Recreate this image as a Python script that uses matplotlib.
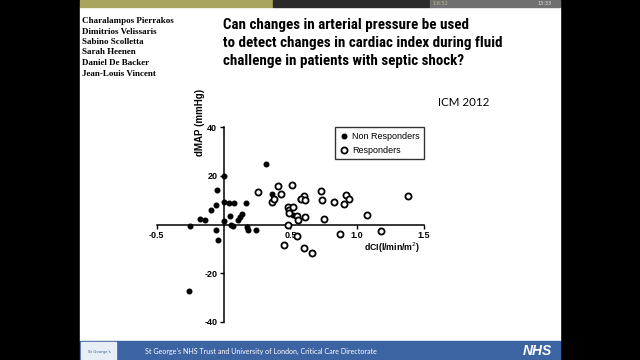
import matplotlib
matplotlib.use('Agg')
import matplotlib.pyplot as plt
from matplotlib.patches import Rectangle
from matplotlib.lines import Line2D
from matplotlib import font_manager as fm

W, H = 640, 360

# data
non_x = [0.32, 0.0, -0.05, -0.06, -0.095, 0.0, 0.04, 0.08, 0.17, 0.36,
         0.05, 0.14, 0.12, 0.105, 0.0, -0.175, -0.14, -0.25, -0.06, 0.057,
         0.07, 0.177, 0.185, 0.24, -0.04, -0.26, 0.57, 0.52]
non_y = [25, 20, 14, 8, 6, 9.4, 8.7, 8.7, 8.7, 12.5,
         3.6, 4.3, 2.9, 2.0, 1.4, 2.3, 1.8, -0.8, -2.3, 0.0,
         -0.5, -1.0, -2.3, -2.3, -6.5, -27.4, 10.3, 4.0]

resp_x = [0.26, 0.41, 0.36, 0.38, 0.43, 0.51, 0.48, 0.49, 0.49, 0.52,
          0.55, 0.56, 0.60, 0.58, 0.61, 0.61, 0.48, 0.55, 0.45, 0.60,
          0.66, 0.73, 0.74, 0.75, 0.83, 0.90, 0.92, 0.94, 0.87, 1.07,
          1.18, 1.38]
resp_y = [13.4, 16.0, 9.4, 10.6, 12.7, 16.3, 7.0, 5.9, 4.6, 7.3,
          3.4, 2.0, 11.7, 10.6, 9.9, 3.2, -0.4, -4.7, -8.5, -9.7,
          -11.7, 13.9, 9.9, 2.1, 9.4, 8.6, 12.3, 10.6, -4.0, 4.1,
          -2.6, 11.6]

xticks = [-0.5, 0.5, 1.0, 1.5]
yticks = [-40, -20, 20, 40]

authors = ['Charalampos Pierrakos', 'Dimitrios Velissaris', 'Sabino Scolletta',
           'Sarah Heenen', 'Daniel De Backer', 'Jean-Louis Vincent']
title_lines = ['Can changes in arterial pressure be used',
               'to detect changes in cardiac index during fluid',
               'challenge in patients with septic shock?']


def fx(px):
    return px / W


def fy(py):
    return 1 - py / H


def narrow_bold_font():
    # the slide title uses a condensed bold face; take one if there is one
    good_w = ('bold', '700', '600', 'semibold', 'demibold', '800')
    cands = []
    for f in fm.fontManager.ttflist:
        narrow = ('Narrow' in f.name or 'Condensed' in f.name
                  or f.stretch in ('condensed', 'semi-condensed', 'extra-condensed'))
        if narrow and str(f.weight) in good_w and f.style == 'normal':
            cands.append(f)
    pref = ['Liberation Sans Narrow', 'Roboto Condensed', 'Open Sans Condensed',
            'Noto Sans', 'DejaVu Sans']
    cands.sort(key=lambda f: next((i for i, p in enumerate(pref) if p in f.name), 99))
    if cands:
        return fm.FontProperties(fname=cands[0].fname)
    return fm.FontProperties(family='Liberation Sans', weight='bold')


fig = plt.figure(figsize=(6.4, 3.6), dpi=100)
fig.patch.set_facecolor('black')


def box(x0, y0, x1, y1, color, z=-5):
    fig.patches.append(Rectangle((fx(x0), fy(y1)), (x1 - x0) / W, (y1 - y0) / H,
                                 transform=fig.transFigure, color=color, zorder=z))


# slide background, top bar and footer
box(80, 7, 560, 341, 'white')
box(80, 0, 273, 7, '#a9a45e')
box(273, 0, 430, 7, '#2a2a2a')
box(430, 0, 560, 7, '#707070')
box(80, 341, 560, 360, '#3c64a2')
box(81, 342, 116, 359, '#e8eef5', z=-4)
fig.text(fx(545), fy(3.5), '13:33', color='#dddddd', fontsize=3.5,
         ha='center', va='center')
fig.text(fx(440), fy(3.5), '1:6:52', color='#bbbb88', fontsize=3.5,
         ha='center', va='center')
fig.text(fx(99), fy(352), "St George's", color='#3c64a2', fontsize=2.8,
         ha='center', va='center')

# authors
for i, name in enumerate(authors):
    fig.text(fx(82), fy(21 + i * 10.5), name, family='Liberation Serif',
             fontweight='bold', fontsize=6.5, va='center', ha='left')

# title, sized so the longest line ends where it does on the slide
tfont = narrow_bold_font()
renderer = fig.canvas.get_renderer()
probe = fig.text(0, 0, title_lines[1], fontproperties=tfont, fontsize=14)
wpx = probe.get_window_extent(renderer).width
probe.remove()
tsize = min(14, 14 * 279 / wpx)
for i, line in enumerate(title_lines):
    fig.text(fx(223), fy(25 + i * 18), line, fontproperties=tfont,
             fontsize=tsize, va='center', ha='left')

fig.text(fx(464), fy(103), 'ICM 2012', family='Lato', fontsize=8.3,
         va='center', ha='center')

fig.text(fx(261), fy(351), "St George's NHS Trust and University of London, Critical Care Directorate",
         family='Lato', color='white', fontsize=5.1, va='center', ha='center')
fig.text(fx(552), fy(351), 'NHS', family='Liberation Sans', color='white',
         fontweight='bold', style='italic', fontsize=10, va='center', ha='right')

# scatter plot
ax = fig.add_axes([fx(156.7), fy(321.7), (424 - 156.7) / W, (321.7 - 127.3) / H])
ax.set_facecolor('none')
ax.set_xlim(-0.5, 1.5)
ax.set_ylim(-40, 40)
ax.spines['left'].set_position(('data', 0))
ax.spines['bottom'].set_position(('data', 0))
ax.spines['top'].set_visible(False)
ax.spines['right'].set_visible(False)
ax.spines['left'].set_linewidth(1.1)
ax.spines['bottom'].set_linewidth(1.1)
ax.set_xticks(xticks)
ax.set_yticks(yticks)
ax.set_xticklabels(['-0.5', '0.5', '1.0', '1.5'])
ax.set_yticklabels(['-40', '-20', '20', '40'])
ax.tick_params(direction='out', length=3, width=1.0, pad=1.5, labelsize=6.5)
for lab in ax.get_xticklabels() + ax.get_yticklabels():
    lab.set_fontweight('bold')
    lab.set_family('Liberation Sans')

ax.plot(non_x, non_y, 'o', color='black', ms=3.3, ls='none', zorder=3,
        clip_on=False)
ax.plot(resp_x, resp_y, 'o', mfc='white', mec='black', mew=1.3, ms=4.4,
        ls='none', zorder=3, clip_on=False)

handles = [Line2D([], [], marker='o', color='black', ms=3.3, ls='none'),
           Line2D([], [], marker='o', mfc='white', mec='black', mew=1.3, ms=4.4, ls='none')]
leg = ax.legend(handles, ['Non Responders', 'Responders'], loc='upper right',
                bbox_to_anchor=(1.0, 1.0), borderaxespad=0.0, frameon=True,
                fancybox=False, edgecolor='black',
                prop={'family': 'Liberation Sans', 'size': 6.5},
                handletextpad=0.3, borderpad=0.5, labelspacing=0.55,
                handlelength=1.1)
leg.get_frame().set_linewidth(1.0)

fig.text(fx(420), fy(248), r'dCI(l/min/m$^2$)', family='Liberation Sans',
         fontweight='bold', fontsize=6.3, ha='right', va='center')
fig.text(fx(200), fy(122), 'dMAP (mmHg)', family='Liberation Sans',
         fontweight='bold', fontsize=7.0, rotation=90, ha='center', va='center')

fig.savefig('out.png', dpi=100, facecolor=fig.get_facecolor())
